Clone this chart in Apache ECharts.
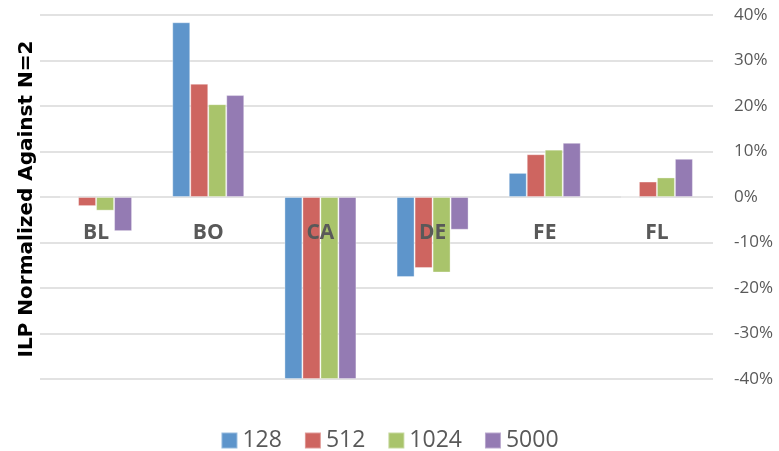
<!DOCTYPE html>
<html>
<head>
<meta charset="utf-8">
<script src="https://cdn.jsdelivr.net/npm/echarts@6/dist/echarts.min.js"></script>
<style>
  html, body { margin: 0; padding: 0; background: #fff; }
  #chart { width: 779px; height: 451px; }
</style>
</head>
<body>
<div id="chart"></div>
<script>
// benchmarks and window sizes
var categories = ['BL', 'BO', 'CA', 'DE', 'FE', 'FL'];
var seriesNames = ['128', '512', '1024', '5000'];

// ILP change vs N=2, in percent
var s128  = [0,    38.4, -40, -17.6,  5.3, 0];
var s512  = [-2.0, 24.9, -40, -15.6,  9.4, 3.4];
var s1024 = [-3.0, 20.4, -40, -16.6, 10.4, 4.3];
var s5000 = [-7.5, 22.4, -40,  -7.2, 11.9, 8.4];

var yTicks = [-40, -30, -20, -10, 0, 10, 20, 30, 40];

var colors = ['#5E95CB', '#CE6560', '#A9C46B', '#947BB3'];
var values = [s128, s512, s1024, s5000];

var chart = echarts.init(document.getElementById('chart'));

var series = [];
for (var i = 0; i < seriesNames.length; i++) {
    series.push({
        name: seriesNames[i],
        type: 'bar',
        data: values[i],
        barWidth: 18,
        barGap: '0%',
        itemStyle: { color: colors[i], borderColor: 'rgba(255,255,255,0.35)', borderWidth: 1 }
    });
}

chart.setOption({
    animation: false,
    color: colors,
    grid: { left: 40, right: 66, top: 15, bottom: 72 },
    legend: {
        top: 424,
        left: 'center',
        itemWidth: 16,
        itemHeight: 16,
        itemGap: 22,
        icon: 'rect',
        textStyle: { fontFamily: 'Open Sans', fontSize: 23, color: '#595959' },
        data: seriesNames
    },
    graphic: [{
        type: 'text',
        x: 27,
        y: 199,
        rotation: Math.PI / 2,
        style: {
            text: 'ILP Normalized Against N=2',
            fontFamily: 'DejaVu Sans',
            fontWeight: 'bold',
            fontSize: 20,
            fill: '#000',
            align: 'center',
            verticalAlign: 'middle'
        }
    }],
    xAxis: {
        type: 'category',
        data: categories,
        z: 10,
        axisLine: { show: false, onZero: false },
        axisTick: { show: false },
        axisLabel: {
            interval: 0,
            margin: 26,
            fontFamily: 'Open Sans',
            fontWeight: 'bold',
            fontSize: 21,
            color: '#595959'
        }
    },
    yAxis: {
        type: 'value',
        position: 'right',
        min: yTicks[0],
        max: yTicks[yTicks.length - 1],
        interval: 10,
        axisLine: { show: false },
        axisTick: { show: false },
        splitLine: { lineStyle: { color: '#D9D9D9', width: 1.5 } },
        axisLabel: {
            margin: 21,
            fontFamily: 'Open Sans',
            fontSize: 17,
            color: '#595959',
            formatter: '{value}%'
        }
    },
    series: series
});

// move the category labels up to the zero line
var zeroY = chart.convertToPixel({ yAxisIndex: 0 }, 0);
var bottomY = chart.convertToPixel({ yAxisIndex: 0 }, yTicks[0]);
chart.setOption({ xAxis: { offset: zeroY - bottomY } });
</script>
</body>
</html>
